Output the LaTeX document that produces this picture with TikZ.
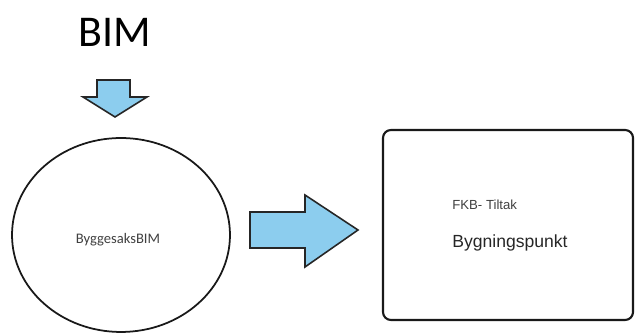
\documentclass[tikz,border=0pt]{standalone}
\usepackage{fontspec}
\setmainfont{Liberation Sans}
\newfontfamily\calfont{Carlito}
\usepackage{xcolor}
\usetikzlibrary{shapes.geometric}
\definecolor{arrowblue}{RGB}{140,205,238}

\begin{document}
\begin{tikzpicture}[x=0.02cm, y=0.02cm]
\tikzstyle{every node}+=[inner sep=0pt]
\tikzstyle{blockarrow}=[draw=black!85, line width=0.9pt, line join=miter, fill=arrowblue]
\useasboundingbox (0,0) rectangle (635,-333);
\draw (115,-32) node (bim) {\calfont\fontsize{25}{30}\selectfont BIM};
\draw [blockarrow] (97,-80) -- (130,-80) -- (130,-97) -- (147,-97) -- (115,-117) -- (83,-97) -- (97,-97) -- cycle;
\node (sak) [ellipse, draw=black!90, line width=1pt, minimum width=4.36cm, minimum height=3.88cm] at (121,-235) {};
\draw (118,-240) node (sakt) {\calfont\fontsize{8.3}{10}\selectfont\color{black!75}ByggesaksBIM};
\draw [blockarrow] (250,-212) -- (305,-212) -- (305,-195) -- (358,-230) -- (305,-267) -- (305,-248) -- (250,-248) -- cycle;
\draw [black!90, line width=1.2pt, rounded corners=4.5pt] (383,-130) rectangle (633,-320);
\draw (452,-205) node [right] (fkb) {\fontsize{7.5}{9}\selectfont\color{black!75}FKB- Tiltak};
\draw (452,-243) node [right] (pkt) {\fontsize{10}{12}\selectfont\color{black!85}Bygningspunkt};
\end{tikzpicture}
\end{document}
